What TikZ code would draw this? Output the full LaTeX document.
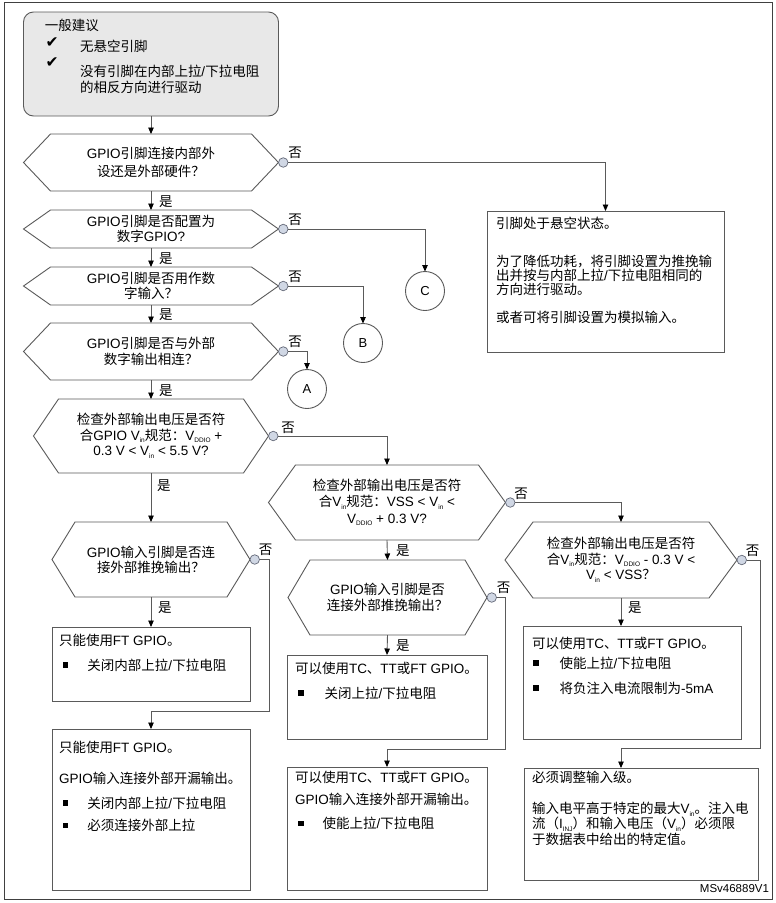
\documentclass[tikz,border=0pt]{standalone}
\usepackage{fontspec}
\setmainfont{Liberation Sans}
\newfontfamily\cjkfont{Noto Sans CJK SC}
\newfontfamily\symfont{DejaVu Sans}
\usetikzlibrary{arrows.meta}
\XeTeXinterchartokenstate=1
\chardef\cjkclass=10
\newcount\cjkc
\def\setcjkrange#1#2{\cjkc=#1\relax\loop\XeTeXcharclass\cjkc=\cjkclass\relax\advance\cjkc by 1\relax\ifnum\cjkc<#2\relax\repeat}
\setcjkrange{"3000}{"3040}
\setcjkrange{"4E00}{"A000}
\setcjkrange{"FF00}{"FFF0}
\XeTeXinterchartoks 0 \cjkclass = {\cjkfont}
\XeTeXinterchartoks 4095 \cjkclass = {\cjkfont}
\XeTeXinterchartoks \cjkclass 0 = {\rmfamily}
\XeTeXinterchartoks \cjkclass 4095 = {\rmfamily}
\newcommand\sbs[1]{\raisebox{-2.5pt}{\fontsize{6.5}{7}\selectfont #1}}
\newcommand\sq{\rule[2.2pt]{5.5pt}{5.5pt}}
\newcommand\hexa[2]{\draw[ln] ([xshift=#2pt]#1.north west) -- ([xshift=-#2pt]#1.north east) -- (#1.east) -- ([xshift=-#2pt]#1.south east) -- ([xshift=#2pt]#1.south west) -- (#1.west) -- cycle;}
\definecolor{lc}{RGB}{90,90,90}
\definecolor{boxf}{RGB}{232,232,232}
\definecolor{dotf}{RGB}{208,215,228}
\definecolor{dotd}{RGB}{100,105,120}
\begin{document}
\begin{tikzpicture}[x=1pt,y=-1pt,
  font=\fontsize{13.5}{16}\selectfont,
  every node/.style={inner sep=0pt,outer sep=0pt},
  ln/.style={draw=lc,line width=0.9pt},
  arr/.style={ln,-{Triangle[length=6.5pt,width=5.5pt,color=black]}},
  box/.style={ln,anchor=north west,rectangle},
  hexn/.style={align=center,rectangle},
  dot/.style={circle,draw=dotd,fill=dotf,line width=0.7pt,minimum size=9.5pt},
  conn/.style={circle,ln,minimum size=39pt,font=\fontsize{13}{15}\selectfont},
  tx/.style={anchor=base west},
  ck/.style={anchor=base west,font=\fontsize{15.5}{15.5}\selectfont\symfont},
  yes/.style={anchor=base west},
  ]
\useasboundingbox (0,0) rectangle (776,903);
\fill[white] (0,0) rectangle (776,903);
\draw[draw=black!75,line width=1pt] (4,2) rectangle (772,899);

% top box
\node[box,fill=boxf,rounded corners=10pt,minimum width=255pt,minimum height=104pt] (tb) at (23.5,12) {};
\node[tx] (t0) at (45,30) {一般建议};
\node[ck] (ck1) at (45.5,47) {✔};
\node[tx] (t1) at (80,51) {无悬空引脚};
\node[ck] (ck2) at (45.5,67.5) {✔};
\node[tx] (t2) at (80,76) {没有引脚在内部上拉/下拉电阻};
\node[tx] (t3) at (80,92.5) {的相反方向进行驱动};

% hexagons
\node[hexn,minimum width=255pt,minimum height=57pt] (h1) at (151,162.5) {GPIO引脚连接内部外\\[2pt]设还是外部硬件？};
\hexa{h1}{27}
\node[hexn,minimum width=255pt,minimum height=38pt] (h2) at (151,229) {GPIO引脚是否配置为\\[-1pt]数字GPIO?};
\hexa{h2}{27}
\node[hexn,minimum width=255pt,minimum height=38pt] (h3) at (151,286) {GPIO引脚是否用作数\\[-1pt]字输入？};
\hexa{h3}{27}
\node[hexn,minimum width=255pt,minimum height=57pt] (h4) at (151,351.5) {GPIO引脚是否与外部\\数字输出相连？};
\hexa{h4}{27}
\node[hexn,minimum width=235pt,minimum height=74pt] (h5) at (151,436) {检查外部输出电压是否符\\[-0.5pt]合GPIO V\sbs{in}规范：V\sbs{DDIO} +\\[-0.5pt]0.3 V < V\sbs{in} < 5.5 V?};
\hexa{h5}{25}
\node[hexn,minimum width=198pt,minimum height=75pt] (h9) at (151,559.5) {GPIO输入引脚是否连\\[-1pt]接外部推挽输出？};
\hexa{h9}{23}
\node[hexn,minimum width=237pt,minimum height=75pt] (h6) at (387,502.5) {检查外部输出电压是否符\\[0.5pt]合V\sbs{in}规范：VSS < V\sbs{in} <\\[0.5pt]V\sbs{DDIO} + 0.3 V?};
\hexa{h6}{27}
\node[hexn,minimum width=199pt,minimum height=75pt] (h8) at (387.5,597.5) {GPIO输入引脚是否\\连接外部推挽输出？};
\hexa{h8}{22}
\node[hexn,minimum width=232pt,minimum height=76pt] (h7) at (621,560) {检查外部输出电压是否符\\[-0.5pt]合V\sbs{in}规范：V\sbs{DDIO} - 0.3 V <\\[-0.5pt]V\sbs{in} < VSS？};
\hexa{h7}{28}

% dots
\node[dot] (d1) at ([xshift=4.75pt]h1.east) {};
\node[dot] (d2) at ([xshift=4.75pt]h2.east) {};
\node[dot] (d3) at ([xshift=4.75pt]h3.east) {};
\node[dot] (d4) at ([xshift=4.75pt]h4.east) {};
\node[dot] (d5) at ([xshift=4.75pt]h5.east) {};
\node[dot] (d6) at ([xshift=4.75pt]h6.east) {};
\node[dot] (d7) at ([xshift=4.75pt]h7.east) {};
\node[dot] (d8) at ([xshift=4.75pt]h8.east) {};
\node[dot] (d9) at ([xshift=4.75pt]h9.east) {};

% no labels
\node[yes] (n1) at ([xshift=5pt,yshift=5pt]d1.center) {否};
\node[yes] (n2) at ([xshift=5pt,yshift=5pt]d2.center) {否};
\node[yes] (n3) at ([xshift=5pt,yshift=5pt]d3.center) {否};
\node[yes] (n4) at ([xshift=5pt,yshift=5pt]d4.center) {否};
\node[yes] (n5) at ([xshift=8pt,yshift=4pt]d5.center) {否};
\node[yes] (n6) at ([xshift=4pt,yshift=4pt]d6.center) {否};
\node[yes] (n7) at ([xshift=4pt,yshift=5pt]d7.center) {否};
\node[yes] (n8) at ([xshift=5pt,yshift=5pt]d8.center) {否};
\node[yes] (n9) at ([xshift=4pt,yshift=5pt]d9.center) {否};

% yes labels
\node[yes] (s1) at (159,206) {是};
\node[yes] (s2) at (159,263) {是};
\node[yes] (s3) at (159,319) {是};
\node[yes] (s4) at (159,395) {是};
\node[yes] (s5) at (157,490) {是};
\node[yes] (s6) at (158,612) {是};
\node[yes] (s7) at (396,555) {是};
\node[yes] (s8) at (396,650) {是};
\node[yes] (s9) at (628,612) {是};

% floating pin box
\node[box,minimum width=237pt,minimum height=141pt] (rb) at (487,211) {};
\node[tx] (r1) at (496,228.5) {引脚处于悬空状态。};
\node[tx] (r2) at (496,266.5) {为了降低功耗，将引脚设置为推挽输};
\node[tx] (r3) at (496,280.5) {出并按与内部上拉/下拉电阻相同的};
\node[tx] (r4) at (496,294.5) {方向进行驱动。};
\node[tx] (r5) at (496,322.5) {或者可将引脚设置为模拟输入。};

% connectors A B C
\node[conn] (cC) at (425,291) {C};
\node[conn] (cB) at (363,343) {B};
\node[conn] (cA) at (307,389) {A};

% left boxes
\node[box,minimum width=198pt,minimum height=74pt] (lb1) at (52,627) {};
\node[tx] (l11) at (59,645) {只能使用FT GPIO。};
\node[tx] (l12) at (63,670) {\sq\hspace{19pt}关闭内部上拉/下拉电阻};
\node[box,minimum width=198pt,minimum height=161pt] (lb2) at (52,729) {};
\node[tx] (l21) at (59,752) {只能使用FT GPIO。};
\node[tx] (l22) at (59,783) {GPIO输入连接外部开漏输出。};
\node[tx] (l23) at (63,808) {\sq\hspace{19pt}关闭内部上拉/下拉电阻};
\node[tx] (l24) at (63,830.5) {\sq\hspace{19pt}必须连接外部上拉};

% middle boxes
\node[box,minimum width=200pt,minimum height=84pt] (mb1) at (287,655) {};
\node[tx] (m11) at (295,673) {可以使用TC、TT或FT GPIO。};
\node[tx] (m12) at (298,698) {\sq\hspace{21pt}关闭上拉/下拉电阻};
\node[box,minimum width=200pt,minimum height=123pt] (mb2) at (287,767) {};
\node[tx] (m21) at (295,782) {可以使用TC、TT或FT GPIO。};
\node[tx] (m22) at (295,804) {GPIO输入连接外部开漏输出。};
\node[tx] (m23) at (298,828.5) {\sq\hspace{19pt}使能上拉/下拉电阻};

% right boxes
\node[box,minimum width=218pt,minimum height=113pt] (rb1) at (523,626) {};
\node[tx] (q11) at (532,648) {可以使用TC、TT或FT GPIO。};
\node[tx] (q12) at (533,668) {\sq\hspace{21pt}使能上拉/下拉电阻};
\node[tx] (q13) at (533,693) {\sq\hspace{21pt}将负注入电流限制为-5mA};
\node[box,minimum width=234pt,minimum height=112pt] (rb2) at (524,768) {};
\node[tx] (q21) at (532,782) {必须调整输入级。};
\node[tx] (q22) at (532,813.5) {输入电平高于特定的最大V\sbs{in}。注入电};
\node[tx] (q23) at (532,828.5) {流（I\sbs{INJ}）和输入电压（V\sbs{in}）必须限};
\node[tx] (q24) at (532,844) {于数据表中给出的特定值。};

\node[anchor=base east,font=\fontsize{11.5}{12}\selectfont] (msv) at (769,892) {MSv46889V1};

% junctions
\coordinate (j9) at (269,711);
\coordinate (j8) at (505,749);
\coordinate (j7) at (760,748);

% connectors
\draw[arr] (tb.south) -- (h1.north);
\draw[arr] (h1.south) -- (h2.north);
\draw[arr] (h2.south) -- (h3.north);
\draw[arr] (h3.south) -- (h4.north);
\draw[arr] (h4.south) -- (h5.north);
\draw[arr] (h5.south) -- (h9.north);
\draw[arr] (h9.south) -- (lb1.north);
\draw[arr] (h6.south) -- (h8.north);
\draw[arr] (h8.south) -- (mb1.north);
\draw[arr] (h7.south) -- (h7.south |- rb1.north);
\draw[arr] (d1.east) -| (rb.north);
\draw[arr] (d2.east) -| (cC.north);
\draw[arr] (d3.east) -| (cB.north);
\draw[arr] (d4.east) -| (cA.north);
\draw[arr] (d5.east) -| (h6.north);
\draw[arr] (d6.east) -| (h7.north);
\draw[arr] (d9.east) -| (j9) -| (lb2.north);
\draw[arr] (d8.east) -| (j8) -| (mb2.north);
\draw[arr] (d7.east) -| (j7) -| (h7.south |- rb2.north);
\end{tikzpicture}
\end{document}
